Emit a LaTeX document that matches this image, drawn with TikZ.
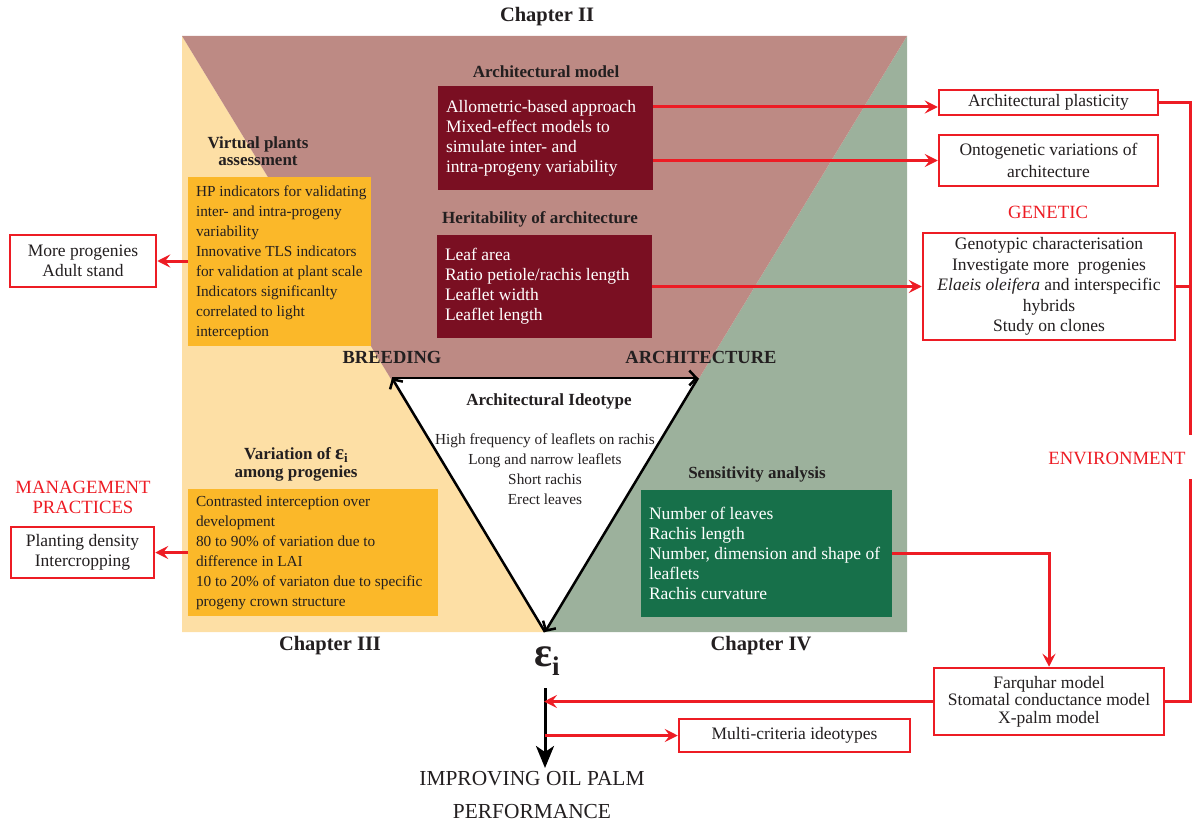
\documentclass[tikz,border=0pt]{standalone}
\usepackage{fontspec}
\setmainfont{Liberation Serif}
\usetikzlibrary{arrows.meta}
\definecolor{cyel}{HTML}{FDDFA5}
\definecolor{cmauve}{HTML}{BD8A84}
\definecolor{cgrn}{HTML}{9CB19C}
\definecolor{cdred}{HTML}{7A0F22}
\definecolor{corg}{HTML}{FBB829}
\definecolor{cdgrn}{HTML}{17704A}
\definecolor{cred}{HTML}{ED1C24}
\definecolor{ctxt}{HTML}{231F20}
\newcommand\fsBody{\fontsize{17.5}{20}\selectfont}
\newcommand\fsSmall{\fontsize{15.3}{20}\selectfont}
\newcommand\fsTitle{\fontsize{17}{17}\selectfont\bfseries}
\newcommand\fsChap{\fontsize{20.5}{22}\selectfont\bfseries}
\newcommand\fsRed{\fontsize{18.7}{20}\selectfont}
\newcommand\fsBig{\fontsize{21.4}{33}\selectfont}
\newcommand\fsVert{\fontsize{18.5}{20}\selectfont\bfseries}
\newcommand\epsi[3]{{\bfseries\fontsize{#1}{#1}\selectfont ε\raisebox{#3}{\fontsize{#2}{#2}\selectfont i}}}
\begin{document}
\begin{tikzpicture}[x=1pt,y=-1pt,
  dbox/.style={fill=cdred, inner sep=0pt},
  obox/.style={fill=corg, inner sep=0pt},
  gbox/.style={fill=cdgrn, inner sep=0pt},
  wtxt/.style={anchor=west, inner sep=0pt, align=left, text=white, font=\fsBody},
  otxt/.style={anchor=west, inner sep=0pt, align=left, text=ctxt, font=\fsSmall},
  rbox/.style={draw=cred, line width=2.5pt, fill=white, inner sep=0pt, align=center, text=ctxt, font=\fsBody},
  ttl/.style={inner sep=0pt, align=center, text=ctxt, font=\fsTitle},
  chap/.style={inner sep=0pt, text=ctxt, font=\fsChap},
  redlab/.style={inner sep=0pt, align=center, text=cred, font=\fsRed},
  rarrow/.style={draw=cred, line width=3pt, -{Stealth[length=13pt,width=13pt,inset=5pt]}},
  rline/.style={draw=cred, line width=3pt},
  tri/.style={draw=black, line width=2.5pt, -{Straight Barb[length=7pt,width=15pt]}},
  barrow/.style={draw=black, line width=3pt, -{Stealth[length=22pt,width=18pt,inset=6pt]}}
]
\useasboundingbox (0,0) rectangle (1194,824);
% background regions
\fill[cyel] (182,36) -- (545,632) -- (182,632) -- cycle;
\fill[cgrn] (907,36) -- (907,632) -- (545,632) -- cycle;
\fill[cmauve] (182,36) -- (907,36) -- (545,632) -- cycle;
\coordinate (B) at (392,378);
\coordinate (A) at (698,378);
\coordinate (E) at (545,632);
\fill[white] (B) -- (A) -- (E) -- cycle;

% chapter labels
\node[chap] (ch2) at (547,17) {Chapter II};
\node[chap] (ch3) at (330,646) {Chapter III};
\node[chap] (ch4) at (761,646) {Chapter IV};

% architectural model
\node[ttl] (amt) at (546,72) {Architectural model};
\node[dbox, minimum width=215, minimum height=104] (amodel) at (545.5,138) {};
\node[wtxt] (amodeltxt) at ([xshift=8pt]amodel.west) {Allometric-based approach\\Mixed-effect models to\\simulate inter- and\\intra-progeny variability};

% heritability
\node[ttl] (het) at (540,219) {Heritability of architecture};
\node[dbox, minimum width=215, minimum height=103] (herit) at (544.5,286.5) {};
\node[wtxt] (herittxt) at ([xshift=8pt]herit.west) {Leaf area\\Ratio petiole/rachis length\\Leaflet width\\Leaflet length};

% virtual plants
\node[ttl] (vpt) at (258,151.5) {Virtual plants\\assessment};
\node[obox, minimum width=183, minimum height=169] (vpa) at (279.5,261.5) {};
\node[otxt] (vpatxt) at ([xshift=8pt,yshift=-1pt]vpa.west) {HP indicators for validating\\inter- and intra-progeny\\variability\\Innovative TLS indicators\\for validation at plant scale\\Indicators significanlty\\correlated to light\\interception};

% variation
\node[ttl] (vart1) at (296,455) {Variation of \epsi{21}{13}{-0.35ex}};
\node[ttl] (vart2) at (296,473) {among progenies};
\node[obox, minimum width=250, minimum height=127] (var) at (313,552.5) {};
\node[otxt] (vartxt) at ([xshift=8pt]var.west) {Contrasted interception over\\development\\80 to 90\% of variation due to\\difference in LAI\\10 to 20\% of variaton due to specific\\progeny crown structure};

% sensitivity
\node[ttl] (sent) at (757,474) {Sensitivity analysis};
\node[gbox, minimum width=251, minimum height=127] (sens) at (766.5,553.5) {};
\node[wtxt] (senstxt) at ([xshift=8pt]sens.west) {Number of leaves\\Rachis length\\Number, dimension and shape of\\leaflets\\Rachis curvature};

% ideotype
\node[ttl] (idt) at (549,401) {Architectural Ideotype};
\node[inner sep=0pt, align=center, text=ctxt, font=\fsSmall] (idl) at (545,469) {High frequency of leaflets on rachis\\Long and narrow leaflets\\Short rachis\\Erect leaves};
\node[inner sep=0pt, text=ctxt, font=\fsVert] (breed) at (392,357) {BREEDING};
\node[inner sep=0pt, text=ctxt, font=\fsVert] (arch) at (701,357) {ARCHITECTURE};

% triangle arrows
\draw[tri] (E) -- (B);
\draw[tri] (B) -- (A);
\draw[tri] (A) -- (E);

% epsilon and output
\node[inner sep=0pt, text=ctxt] (eps) at (547,661) {\epsi{42}{27}{-0.45ex}};
\coordinate (atop) at (545,688);
\coordinate (abot) at (545,768);
\draw[barrow] (atop) -- (abot);
\node[inner sep=0pt, align=center, text=ctxt, font=\fsBig] (impr) at (532,795) {IMPROVING OIL PALM\\PERFORMANCE};

% right boxes
\node[rbox, minimum width=219, minimum height=25] (plast) at (1048.5,102.5) {Architectural plasticity};
\node[rbox, minimum width=219, minimum height=51, font=\fontsize{17.5}{21.5}\selectfont] (onto) at (1048.5,160.5) {Ontogenetic variations of\\architecture};
\node[redlab] (gen) at (1048,212) {GENETIC};
\node[rbox, minimum width=252, minimum height=107, font=\fontsize{17.5}{20.5}\selectfont] (geno) at (1049,286.5) {Genotypic characterisation\\Investigate more\ \ progenies\\\textit{Elaeis oleifera} and interspecific\\hybrids\\Study on clones};
\node[redlab] (env) at (1117,458) {ENVIRONMENT};
\node[rbox, minimum width=230, minimum height=67, font=\fontsize{17.5}{17.5}\selectfont] (farq) at (1049,701.5) {Farquhar model\\Stomatal conductance model\\X-palm model};
\node[rbox, minimum width=231, minimum height=33] (multi) at (794.5,735.5) {Multi-criteria ideotypes};

% left boxes
\node[rbox, minimum width=146, minimum height=52] (more) at (83,261) {More progenies\\Adult stand};
\node[redlab] (mgmt) at (83,497) {MANAGEMENT\\PRACTICES};
\node[rbox, minimum width=143, minimum height=51] (plant) at (82.5,552.5) {Planting density\\Intercropping};

% connectors
\draw[rarrow] (amodel.east |- 0,107) -- (plast.west |- 0,107);
\draw[rarrow] (amodel.east |- onto.west) -- (onto.west);
\draw[rarrow] (herit.east |- geno.west) -- (geno.west);
\coordinate (envtop) at (1190,435);
\coordinate (envbot) at (1190,479);
\draw[rline] (plast.east) -| (envtop);
\draw[rline] (geno.east) -- (geno.east -| envtop);
\draw[rline] (envbot) |- (farq.east);
\draw[rarrow] (sens.east) -| (farq.north);
\draw[rarrow, shorten >=-1pt] (farq.west) -- (farq.west -| atop);
\draw[rarrow] (atop |- multi.west) -- (multi.west);
\draw[rarrow] (vpa.west |- more.east) -- (more.east);
\draw[rarrow] (var.west |- plant.east) -- (plant.east);
\end{tikzpicture}
\end{document}
